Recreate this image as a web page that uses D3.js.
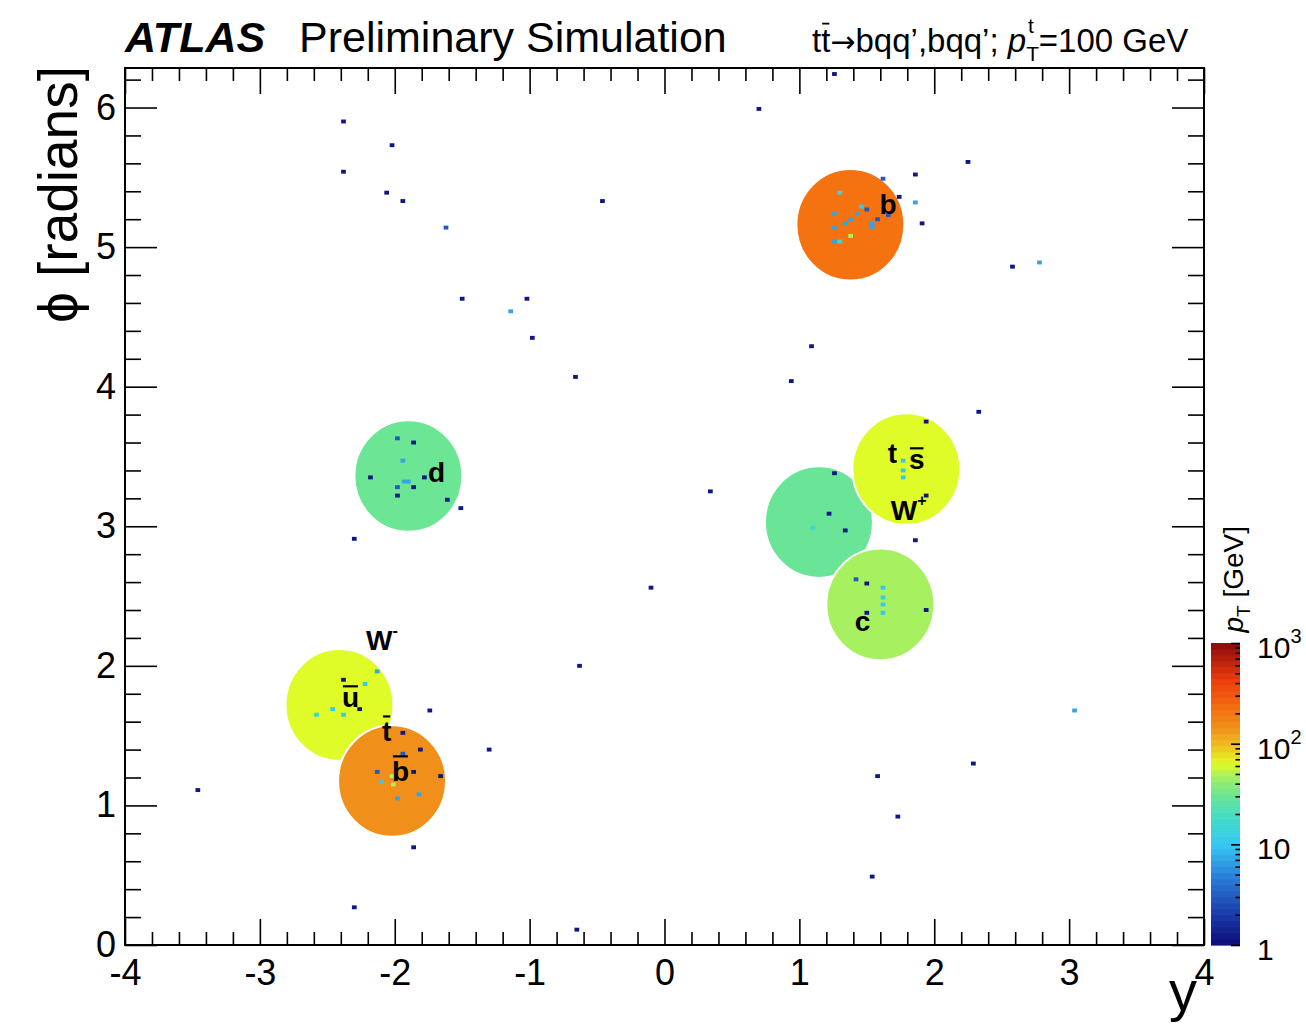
<!DOCTYPE html>
<html>
<head>
<meta charset="utf-8">
<script src="https://cdn.jsdelivr.net/npm/d3@7"></script>
<style>
  body { margin: 0; background: #fff; }
  svg { font-family: "Liberation Sans", Arial, Helvetica, sans-serif; }
</style>
</head>
<body>
<div id="chart"></div>
<script>
// ---- data ----
// jets: [rapidity y, phi, pT in GeV]  (cone radius 0.4)
var jets = [
  [1.378, 5.16, 219],   // b
  [-2.02, 1.175, 145],  // b-bar
  [-2.41, 1.72, 63],    // u-bar
  [-1.899, 3.36, 31],   // d
  [1.793, 3.41, 63],    // W+ (t s-bar)
  [1.145, 3.03, 30],    // unlabelled
  [1.60, 2.44, 48]      // c
];
var jetRadius = 0.4;

// particles: [y, phi, pT in GeV]
var particles = [
  // scattered
  [1.26, 6.24, 1.2], [0.70, 5.99, 1.2], [-2.38, 5.90, 1.2], [-2.02, 5.73, 1.2],
  [-2.38, 5.54, 1.2], [-2.06, 5.39, 1.2], [-1.94, 5.33, 1.2], [-0.46, 5.33, 1.2],
  [-1.62, 5.14, 3], [2.25, 5.61, 1.2], [1.86, 5.52, 1.2], [1.91, 5.17, 1.2],
  [2.58, 4.86, 1.2], [2.78, 4.89, 7], [-1.50, 4.63, 1.2], [-1.02, 4.63, 1.2],
  [-1.14, 4.54, 7], [-0.98, 4.35, 1.2], [1.09, 4.29, 1.2], [-0.66, 4.07, 1.2],
  [0.94, 4.04, 1.2], [1.94, 3.75, 1.2], [2.33, 3.82, 1.2], [0.34, 3.25, 1.2],
  [-1.51, 3.13, 1.2], [-2.30, 2.91, 1.2], [1.86, 2.90, 1.2], [-0.10, 2.56, 1.2],
  [-0.63, 2.00, 1.2], [3.04, 1.68, 7], [-1.74, 1.68, 1.2], [-1.30, 1.40, 1.2],
  [-3.46, 1.11, 1.2], [1.58, 1.21, 1.2], [2.29, 1.30, 1.2], [1.73, 0.92, 1.2],
  [-1.86, 0.70, 1.2], [1.54, 0.49, 1.2], [-2.30, 0.27, 1.2], [-0.65, 0.11, 1.2],
  // d jet
  [-1.98, 3.63, 3], [-1.86, 3.60, 1.2], [-1.94, 3.47, 7], [-2.18, 3.35, 1.2],
  [-1.78, 3.35, 1.2], [-1.93, 3.32, 7], [-1.90, 3.32, 7], [-1.98, 3.28, 3],
  [-1.86, 3.28, 1.2], [-1.98, 3.22, 1.2], [-1.61, 3.19, 1.2],
  // u-bar / b-bar jets
  [-2.13, 1.96, 7], [-2.38, 1.90, 1.2], [-2.22, 1.87, 10], [-2.26, 1.69, 1.2],
  [-2.46, 1.69, 10], [-2.38, 1.65, 10], [-2.58, 1.65, 15], [-1.94, 1.52, 1.2],
  [-1.81, 1.40, 1.2], [-1.94, 1.37, 3], [-2.13, 1.24, 3], [-1.86, 1.24, 1.2],
  [-1.66, 1.21, 1.2], [-2.02, 1.21, 50], [-2.10, 1.17, 10], [-2.01, 1.15, 50],
  [-1.82, 1.08, 7], [-1.98, 1.05, 7],
  // W+, unlabelled and c jets
  [1.77, 3.47, 10], [1.77, 3.40, 10], [1.77, 3.35, 10], [1.94, 3.22, 1.2],
  [1.26, 3.38, 1.2], [1.22, 3.09, 1.2], [1.10, 2.99, 15], [1.34, 2.97, 1.2],
  [1.42, 2.62, 3], [1.50, 2.59, 1.2], [1.62, 2.56, 10], [1.62, 2.49, 10],
  [1.62, 2.44, 10], [1.62, 2.38, 10], [1.50, 2.38, 1.2], [1.94, 2.40, 1.2],
  // b jet
  [1.62, 5.49, 3], [1.74, 5.36, 1.2], [1.86, 5.32, 7], [1.30, 5.39, 15],
  [1.46, 5.29, 10], [1.50, 5.27, 3], [1.26, 5.24, 7], [1.43, 5.24, 7],
  [1.38, 5.20, 7], [1.58, 5.20, 3], [1.66, 5.23, 3], [1.34, 5.17, 7],
  [1.54, 5.17, 7], [1.54, 5.14, 7], [1.26, 5.14, 7], [1.38, 5.08, 50],
  [1.26, 5.04, 7], [1.30, 5.04, 15]
];

// labels: [text, y, phi, overbar, superscript]
var jetLabels = [
  ["b", 1.594, 5.236, false, ""],
  ["b", -2.021, 1.175, true, ""],
  ["u", -2.392, 1.705, true, ""],
  ["d", -1.754, 3.317, false, ""],
  ["t", 1.656, 3.453, false, ""],
  ["s", 1.812, 3.410, true, ""],
  ["W", 1.678, 3.042, false, "+"],
  ["c", 1.411, 2.250, false, ""],
  ["W", -2.213, 2.113, false, "-"],
  ["t", -2.095, 1.461, true, ""]
];

var xTicks = [-4, -3, -2, -1, 0, 1, 2, 3, 4];
var yTicks = [0, 1, 2, 3, 4, 5, 6];
var zTicks = [1, 10, 100, 1000];
var zTickLabels = [["1", ""], ["10", ""], ["10", "2"], ["10", "3"]];

// colour palette (position along log colour axis -> colour)
var palStops = [0, 0.10, 0.22, 0.333, 0.42, 0.50, 0.56, 0.60, 0.66, 0.72, 0.78, 0.88, 1];
var palColors = ["#0b0b78", "#1a3aa8", "#2a7ad8", "#36c8f2", "#40dcc8", "#6ee592",
                 "#a6f060", "#e0fc28", "#f0c01e", "#f0901a", "#f47210", "#ec3a0c", "#8a0a0a"];

// ---- scales ----
var x = d3.scaleLinear().domain([-4, 4]).range([125, 1204]);
var y = d3.scaleLinear().domain([0, 2 * Math.PI]).range([945, 68]);
var z = d3.scaleLog().domain([1, 1000]).range([945, 643]);
var pal = d3.scaleLinear().domain(palStops).range(palColors).clamp(true);
function colorOf(pt) { return pal(Math.log10(pt) / 3); }

var svg = d3.select("#chart").append("svg")
  .attr("width", 1306)
  .attr("height", 1025);

// ---- jets (low pT first so harder jets sit on top) ----
var sortedJets = jets.slice().sort(function(a, b) { return a[2] - b[2]; });
svg.append("g").selectAll("ellipse")
  .data(sortedJets)
  .enter().append("ellipse")
  .attr("cx", function(d) { return x(d[0]); })
  .attr("cy", function(d) { return y(d[1]); })
  .attr("rx", x(jetRadius) - x(0))
  .attr("ry", y(0) - y(jetRadius))
  .attr("fill", function(d) { return colorOf(d[2]); })
  .attr("stroke", "#fff")
  .attr("stroke-width", 2);

// ---- particles ----
var pw = x(0.035) - x(0), ph = y(0) - y(0.028);
svg.append("g").selectAll("rect")
  .data(particles)
  .enter().append("rect")
  .attr("x", function(d) { return x(d[0]) - pw / 2; })
  .attr("y", function(d) { return y(d[1]) - ph / 2; })
  .attr("width", pw)
  .attr("height", ph)
  .attr("fill", function(d) { return colorOf(d[2]); });

// ---- labels in the plot ----
var barHeight = { b: 0.88, t: 0.88, u: 0.74, s: 0.74 };
jetLabels.forEach(function(l) {
  var fs = 28;
  var t = svg.append("text")
    .attr("x", x(l[1]))
    .attr("y", y(l[2]))
    .attr("font-size", fs)
    .attr("font-weight", "bold")
    .text(l[0]);
  if (l[4]) {
    t.append("tspan").attr("font-size", 16).attr("dy", -14).text(l[4]);
  }
  if (l[3]) {
    var ext = t.node().getExtentOfChar(0);
    svg.append("line")
      .attr("x1", ext.x + 1).attr("x2", ext.x + ext.width - 1)
      .attr("y1", y(l[2]) - barHeight[l[0]] * fs)
      .attr("y2", y(l[2]) - barHeight[l[0]] * fs)
      .attr("stroke", "#000").attr("stroke-width", 2.2);
  }
});

// ---- axes ----
function styleAxis(g) {
  g.select(".domain").remove();
  g.selectAll("line").attr("stroke", "#000").attr("stroke-width", 1.6);
  g.attr("font-family", null);
}
var xMinor = d3.range(-4, 4.001, 0.2).filter(function(v) { return Math.abs(v - Math.round(v)) > 1e-6; });
var yMinor = d3.range(0, 6.3, 0.2).filter(function(v) { return Math.abs(v - Math.round(v)) > 1e-6; });

svg.append("g")
  .attr("transform", "translate(0,945)")
  .call(d3.axisBottom(x).tickValues(xTicks).tickSizeInner(-26).tickSizeOuter(0)
    .tickPadding(14).tickFormat(function(d) { return String(d); }))
  .call(styleAxis)
  .attr("font-size", 36);
svg.append("g")
  .attr("transform", "translate(0,945)")
  .call(d3.axisBottom(x).tickValues(xMinor).tickSizeInner(-13).tickSizeOuter(0).tickFormat(""))
  .call(styleAxis);
svg.append("g")
  .attr("transform", "translate(0,68)")
  .call(d3.axisTop(x).tickValues(xTicks).tickSizeInner(-26).tickSizeOuter(0).tickFormat(""))
  .call(styleAxis);
svg.append("g")
  .attr("transform", "translate(0,68)")
  .call(d3.axisTop(x).tickValues(xMinor).tickSizeInner(-13).tickSizeOuter(0).tickFormat(""))
  .call(styleAxis);

svg.append("g")
  .attr("transform", "translate(125,0)")
  .call(d3.axisLeft(y).tickValues(yTicks).tickSizeInner(-32).tickSizeOuter(0)
    .tickPadding(9).tickFormat(function(d) { return String(d); }))
  .call(styleAxis)
  .attr("font-size", 36);
svg.append("g")
  .attr("transform", "translate(125,0)")
  .call(d3.axisLeft(y).tickValues(yMinor).tickSizeInner(-16).tickSizeOuter(0).tickFormat(""))
  .call(styleAxis);
svg.append("g")
  .attr("transform", "translate(1204,0)")
  .call(d3.axisRight(y).tickValues(yTicks).tickSizeInner(-32).tickSizeOuter(0).tickFormat(""))
  .call(styleAxis);
svg.append("g")
  .attr("transform", "translate(1204,0)")
  .call(d3.axisRight(y).tickValues(yMinor).tickSizeInner(-16).tickSizeOuter(0).tickFormat(""))
  .call(styleAxis);

// frame
svg.append("rect")
  .attr("x", 125).attr("y", 68)
  .attr("width", 1204 - 125).attr("height", 945 - 68)
  .attr("fill", "none").attr("stroke", "#000").attr("stroke-width", 2);

// axis titles
svg.append("text")
  .attr("x", 1197).attr("y", 1010)
  .attr("text-anchor", "end")
  .attr("font-size", 56)
  .text("y");
svg.append("text")
  .attr("transform", "translate(77,66) rotate(-90)")
  .attr("text-anchor", "end")
  .attr("font-size", 55)
  .text("ϕ [radians]");

// ---- colour bar ----
var nBands = 50;
svg.append("g").selectAll("rect")
  .data(d3.range(nBands))
  .enter().append("rect")
  .attr("x", 1211)
  .attr("width", 29)
  .attr("y", function(i) { return z(Math.pow(10, 3 * (i + 1) / nBands)); })
  .attr("height", function(i) { return z(Math.pow(10, 3 * i / nBands)) - z(Math.pow(10, 3 * (i + 1) / nBands)) + 0.6; })
  .attr("fill", function(i) { return pal((i + 0.5) / nBands); });

var zMinor = [];
[1, 10, 100].forEach(function(dec) {
  for (var k = 2; k <= 9; k++) zMinor.push(dec * k);
});
svg.append("g")
  .attr("transform", "translate(1240,0)")
  .call(d3.axisRight(z).tickValues(zTicks).tickSizeInner(-9).tickSizeOuter(0).tickFormat(""))
  .call(styleAxis);
svg.append("g")
  .attr("transform", "translate(1240,0)")
  .call(d3.axisRight(z).tickValues(zMinor).tickSizeInner(-4.5).tickSizeOuter(0).tickFormat(""))
  .call(styleAxis);

zTicks.forEach(function(v, i) {
  var t = svg.append("text")
    .attr("x", 1257)
    .attr("y", z(v) + 15)
    .attr("font-size", 30)
    .text(zTickLabels[i][0]);
  if (zTickLabels[i][1]) {
    t.append("tspan").attr("font-size", 20).attr("dy", -15).text(zTickLabels[i][1]);
  }
});

var ztitle = svg.append("text")
  .attr("transform", "translate(1243,526) rotate(-90)")
  .attr("text-anchor", "end")
  .attr("font-size", 28);
ztitle.append("tspan").attr("font-style", "italic").text("p");
ztitle.append("tspan").attr("font-size", 19).attr("dy", 7).text("T");
ztitle.append("tspan").attr("dy", -7).text(" [GeV]");

// ---- header ----
svg.append("text")
  .attr("x", 125).attr("y", 52)
  .attr("font-size", 43)
  .attr("font-weight", "bold")
  .attr("font-style", "italic")
  .text("ATLAS");
svg.append("text")
  .attr("x", 299).attr("y", 52)
  .attr("font-size", 43)
  .text("Preliminary Simulation");

var head = svg.append("text")
  .attr("x", 812).attr("y", 52)
  .attr("font-size", 33);
head.append("tspan").text("tt");
head.append("tspan").attr("font-family", "DejaVu Sans").attr("font-size", 30).text("\u2192");
head.append("tspan").text("bqq\u2019,bqq\u2019; ");
head.append("tspan").attr("font-style", "italic").text("p");
head.append("tspan").attr("font-size", 21).attr("dy", 9).text("T");
head.append("tspan").attr("font-size", 21).attr("dx", -11).attr("dy", -28).text("t");
head.append("tspan").attr("dx", 5).attr("dy", 19).text("=100 GeV");
var ht = head.node().getExtentOfChar(1);
svg.append("line")
  .attr("x1", ht.x + 1).attr("x2", ht.x + ht.width - 1)
  .attr("y1", 52 - 0.86 * 33).attr("y2", 52 - 0.86 * 33)
  .attr("stroke", "#000").attr("stroke-width", 1.8);
</script>
</body>
</html>
